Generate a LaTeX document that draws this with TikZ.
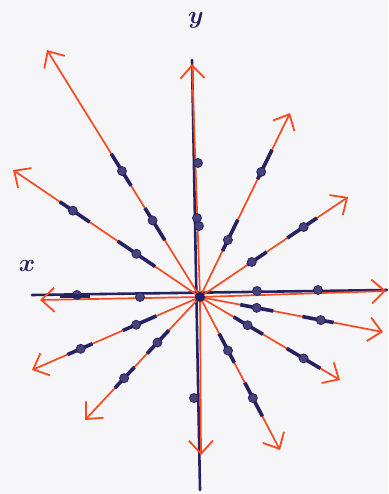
\documentclass[tikz,border=0pt]{standalone}
\usetikzlibrary{arrows.meta,calc}
\definecolor{navy}{RGB}{38,34,98}
\definecolor{redor}{RGB}{250,72,32}
\definecolor{paper}{RGB}{246,246,249}
\tikzset{
  axisline/.style={navy,line width=2.6pt,line cap=round},
  ray/.style={redor,line width=1.7pt,-{Straight Barb[length=13pt,width=24pt,line width=1.8pt]}},
  seg/.style={navy,line width=3.6pt},
  blob/.style={circle,fill=navy!85,draw=navy,line width=0.8pt,inner sep=0pt,minimum size=9pt},
  lbl/.style={navy,inner sep=1pt,font=\fontsize{32}{34}\selectfont\boldmath}
}
\begin{document}
\begin{tikzpicture}[x=1pt,y=-1pt]
\fill[paper] (0,0) rectangle (388,494);
\useasboundingbox (0,0) rectangle (388,494);
\coordinate (O) at (200,297);
% axes
\coordinate (Ytop) at (192,60);
\coordinate (Ybot) at (200,490);
\coordinate (Xl) at (32,295);
\coordinate (Xr) at (387,290);
\draw[axisline] (Ybot) -- (Ytop);
\draw[axisline] (Xl) -- (Xr);
% ray tips
\coordinate (T1) at (47,50);
\coordinate (T2) at (13,170);
\coordinate (T3) at (290,113);
\coordinate (T4) at (348,197);
\coordinate (T5) at (383,332);
\coordinate (T6) at (340,380);
\coordinate (T7) at (280,450);
\coordinate (T8) at (85,420);
\coordinate (T9) at (32,370);
\coordinate (TL) at (40,300);
\coordinate (TR) at (386,291);
\coordinate (TU) at (192,64);
\coordinate (TD) at (201,455);
\foreach \t in {T1,T2,T3,T4,T5,T6,T7,T8,T9,TL,TR,TU,TD}
  \draw[ray] (O) -- (\t);
% dark segments with dots along the rays
\foreach \t/\a/\b/\p/\c/\d/\q in {
  T1/0.23/0.36/0.31/0.45/0.58/0.51,
  T2/0.24/0.44/0.34/0.59/0.75/0.68,
  T3/0.25/0.42/0.31/0.64/0.80/0.68,
  T4/0.32/0.45/0.35/0.59/0.79/0.70,
  T5/0.22/0.40/0.31/0.56/0.73/0.66,
  T6/0.24/0.45/0.34/0.62/0.86/0.74,
  T7/0.24/0.43/0.35/0.56/0.78/0.66,
  T8/0.27/0.46/0.37/0.57/0.74/0.66,
  T9/0.26/0.46/0.38/0.64/0.79/0.71}{
  \draw[seg] ($(O)!\a!(\t)$) -- ($(O)!\b!(\t)$);
  \draw[seg] ($(O)!\c!(\t)$) -- ($(O)!\d!(\t)$);
  \node[blob] at ($(O)!\p!(\t)$) {};
  \node[blob] at ($(O)!\q!(\t)$) {};
}
% dots on the axes
\node[blob] at (198,163) {};
\node[blob] at (197,218) {};
\node[blob] at (199,226) {};
\node[blob] at (194,398) {};
\node[blob] at (257,291) {};
\node[blob] at (318,290) {};
\node[blob] at (140,297) {};
\node[blob] at (77,295) {};
\draw[seg] (60,296) -- (90,296);
% origin
\node[circle,fill=navy,inner sep=0pt,minimum size=10pt] at (O) {};
% labels
\node[lbl] (ylab) at (196,20) {$y$};
\node[lbl] (xlab) at (27,266) {$x$};
\end{tikzpicture}
\end{document}
